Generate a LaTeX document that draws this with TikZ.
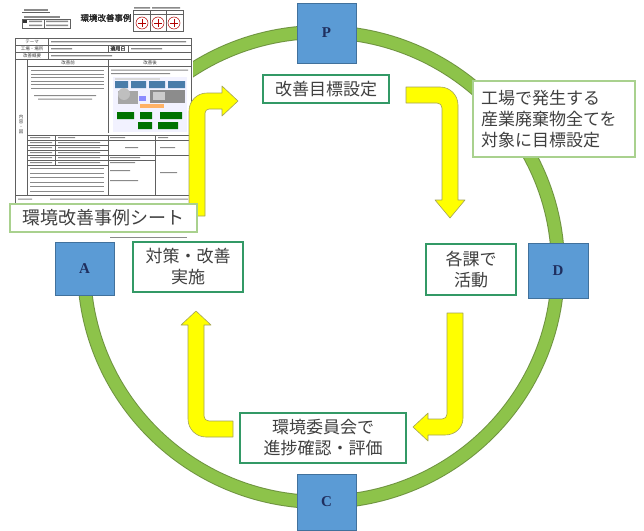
\documentclass[tikz,border=0pt]{standalone}
\usepackage{fontspec}
\newfontfamily\jp{Noto Sans CJK JP}
\newfontfamily\jpb[FakeBold=2]{Noto Sans CJK JP}
\newfontfamily\ser{Liberation Serif}
\definecolor{ringgreen}{HTML}{8DC34A}
\definecolor{ringedge}{HTML}{6F9440}
\definecolor{bluefill}{HTML}{5B9BD5}
\definecolor{blueedge}{HTML}{41719C}
\definecolor{navy}{HTML}{1F2F5F}
\definecolor{boxgreen}{HTML}{339966}
\definecolor{lightgreen}{HTML}{A9D18E}
\definecolor{yfill}{HTML}{FFFF00}
\definecolor{yedge}{HTML}{A3A35A}
\definecolor{txt}{HTML}{404040}
\definecolor{docline}{HTML}{606060}
\definecolor{doctext}{HTML}{8A8A8A}
\tikzset{
  tbox/.style={draw=boxgreen, line width=1.4pt, fill=white, text=txt, align=center, inner sep=0pt,
    font=\jp\fontsize{17pt}{21pt}\selectfont},
  lbox/.style={tbox, draw=lightgreen, line width=2pt},
  pdca/.style={draw=blueedge, fill=bluefill, line width=0.8pt, inner sep=0pt, text=navy,
    font=\ser\bfseries\fontsize{15pt}{15pt}\selectfont},
  yarrow/.style={fill=yfill, draw=yedge, line width=0.6pt, line join=round},
  dl/.style={draw=docline, line width=0.45pt},
  bar/.style={fill=doctext},
  tiny/.style={inner sep=0pt, text=black!75, font=\jp\fontsize{4.5pt}{5pt}\selectfont}
}
\begin{document}
\begin{tikzpicture}[x=1pt,y=-1pt]
\useasboundingbox (0,0) rectangle (644,530);
\fill[white] (0,0) rectangle (644,530);

% green ring
\draw[ringedge, line width=14pt] (321,267) ellipse [x radius=237, y radius=235];
\draw[ringgreen, line width=12pt] (321,267) ellipse [x radius=237, y radius=235];

% ---------- document thumbnail ----------
\fill[white] (3,1) rectangle (193,242);
\fill[bar] (24,9) rectangle (48,11);
\draw[docline, line width=0.3pt] (22,12.5) -- (50,12.5);
\fill[bar] (24,16) rectangle (60,17.5);
\draw[dl] (22,19) rectangle (70,28);
\draw[dl] (44,19) -- (44,28);
\fill[black!80] (23,20) rectangle (27,23);
\fill[bar] (29,20.5) rectangle (42,22) (29,24.5) rectangle (42,26) (46,20.5) rectangle (68,22) (46,24.5) rectangle (68,26);
\node[inner sep=0pt, text=black!85, font=\jpb\fontsize{8.5pt}{9pt}\selectfont] (dochead) at (106,18) {環境改善事例};
\fill[bar] (134,7) rectangle (150,8.5) (152,7) rectangle (180,8.5);
\draw[dl] (133,10) rectangle (183,31);
\draw[dl] (133,14) -- (183,14) (150,10) -- (150,31) (166,10) -- (166,31);
\foreach \cx in {142,158,174}{
  \draw[red!70!black, line width=0.5pt] (\cx,23) circle [radius=6];
  \draw[red!70!black, line width=0.6pt] (\cx-4,23) -- (\cx+4,23) (\cx,19) -- (\cx,27);
}
\draw[dl] (15,38) rectangle (191,203);
\draw[dl] (15,45) -- (191,45) (15,52) -- (191,52) (15,59) -- (191,59);
\draw[dl] (48,38) -- (48,59) (108,45) -- (108,52) (128,45) -- (128,52);
\node[tiny] (t1) at (32,41.5) {テーマ};
\node[tiny] (t2) at (32,48.5) {工場・場所};
\node[tiny] (t3) at (32,55.5) {改善概要};
\node[tiny, font=\jpb\fontsize{5pt}{5pt}\selectfont] (t4) at (118,48.5) {適用日};
\fill[bar] (51,41) rectangle (186,42.3) (51,48) rectangle (72,49.3) (131,48) rectangle (162,49.3) (51,55) rectangle (112,56.3);
\draw[dl] (27,59) -- (27,195) (108,59) -- (108,133) (27,66) -- (191,66) (15,195) -- (191,195);
\node[tiny, align=center] (t5) at (21,124) {内\\容\\・\\図};
\node[tiny] (t6) at (68,62.5) {改善前};
\node[tiny] (t7) at (150,62.5) {改善後};
\foreach \yy in {70,73.5,77,80.5,84,87.5}{\fill[bar] (31,\yy) rectangle (104,\yy+1.2);}
\fill[bar] (34,95) rectangle (96,96.2) (38,98.5) rectangle (92,99.7);
\fill[bar] (111,69.5) rectangle (188,70.7) (111,73) rectangle (170,74.2);
\fill[blue!5] (113,77) rectangle (187,132);
\fill[black!15] (115,78) rectangle (160,80);
\fill[bluefill!80!black] (115,81) rectangle (128,88) (131,81) rectangle (146,88) (149,81) rectangle (165,88) (168,81) rectangle (185,88);
\fill[black!35] (118,91) rectangle (138,104);
\fill[black!25] (124,94) circle [radius=6];
\fill[blue!45] (139,96) rectangle (146,101);
\fill[black!45] (150,90) rectangle (185,103);
\fill[black!20] (153,92) rectangle (165,100);
\fill[orange!60] (140,104) rectangle (164,108);
\fill[green!45!black] (117,112) rectangle (134,119) (140,112) rectangle (152,119) (160,112) rectangle (182,119) (138,122) rectangle (152,129) (158,122) rectangle (178,129);
\draw[dl] (27,135) -- (191,135) (27,140) -- (191,140);
\foreach \yy in {145,150,155,160,165}{\draw[dl] (27,\yy) -- (108,\yy);}
\draw[dl] (108,155) -- (191,155) (108,160) -- (155,160);
\draw[dl] (27,135) -- (27,195) (55,135) -- (55,165) (108,135) -- (108,195) (155,135) -- (155,195);
\fill[bar] (30,137) rectangle (50,138.2) (58,137) rectangle (75,138.2) (110,137) rectangle (125,138.2) (158,137) rectangle (168,138.2);
\foreach \yy in {142,147,152,157,162}{\fill[bar] (30,\yy) rectangle (52,\yy+1.2) (58,\yy) rectangle (100,\yy+1.2);}
\foreach \yy in {168,172.5,177,181.5,186,190.5}{\fill[bar] (30,\yy) rectangle (104,\yy+1.2);}
\fill[bar] (125,147) rectangle (138,148.2) (160,147) rectangle (175,148.2) (110,157) rectangle (140,158.2) (110,162) rectangle (135,163.2) (110,170) rectangle (130,171.2) (110,180) rectangle (138,181.2) (160,172) rectangle (177,173.2);
\fill[bar] (18,198.5) rectangle (32,199.7) (50,198.5) rectangle (188,199.7);
\fill[bar] (110,236.5) rectangle (187,237.5);

% ---------- yellow arrows ----------
\draw[yarrow] (189,216) -- (189,111) .. controls (189,101) and (197,93) .. (207,93) -- (222,93) -- (222,86) -- (238,101) -- (222,116) -- (222,109) -- (209,109) .. controls (207,109) and (205,111) .. (205,113) -- (205,216) -- cycle;
\draw[yarrow] (406,87) -- (440,87) .. controls (450,87) and (458,95) .. (458,105) -- (458,200) -- (465,200) -- (450,218) -- (435,200) -- (442,200) -- (442,108) .. controls (442,105) and (440,103) .. (437,103) -- (406,103) -- cycle;
\draw[yarrow] (447,313) -- (463,313) -- (463,418) .. controls (463,428) and (455,435) .. (445,435) -- (428,435) -- (428,441) -- (413,427) -- (428,413) -- (428,419) -- (442,419) .. controls (445,419) and (447,417) .. (447,414) -- cycle;
\draw[yarrow] (233,421) -- (233,437) -- (206,437) .. controls (196,437) and (188,429) .. (188,419) -- (188,325) -- (181,325) -- (196,311) -- (211,325) -- (204,325) -- (204,416) .. controls (204,419) and (206,421) .. (209,421) -- cycle;

% ---------- PDCA boxes ----------
\node[pdca, minimum width=59pt, minimum height=60pt] (P) at (326.5,33) {P};
\node[pdca, minimum width=60pt, minimum height=55pt] (D) at (558,270.5) {D};
\node[pdca, minimum width=59pt, minimum height=56pt] (C) at (326.5,502) {C};
\node[pdca, minimum width=59pt, minimum height=53pt] (A) at (84.5,268.5) {A};

% ---------- text boxes ----------
\node[tbox, minimum width=126pt, minimum height=28pt] (goal) at (326,89) {改善目標設定};
\node[lbox, minimum width=162pt, minimum height=76pt, text width=146pt, align=left] (target) at (554,119)
  {工場で発生する\\産業廃棄物全てを\\対象に目標設定};
\node[tbox, minimum width=90pt, minimum height=51pt] (act) at (471,269.5) {各課で\\活動};
\node[tbox, minimum width=166pt, minimum height=50pt] (eval) at (323,438) {環境委員会で\\進捗確認・評価};
\node[tbox, minimum width=110pt, minimum height=50pt] (impl) at (188,267) {対策・改善\\実施};
\node[lbox, minimum width=187pt, minimum height=28pt, font=\jp\fontsize{18pt}{21pt}\selectfont] (sheet) at (103.5,218) {環境改善事例シート};
\end{tikzpicture}
\end{document}
